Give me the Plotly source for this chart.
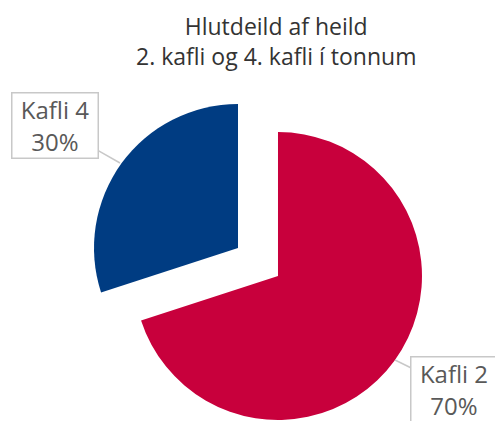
import plotly.graph_objects as go

labels = ["Kafli 2", "Kafli 4"]
values = [70, 30]
colors = ["#C8003C", "#003C82"]
pct_text = ["70%", "30%"]
title_lines = ["Hlutdeild af heild", "2. kafli og 4. kafli í tonnum"]

W, H = 495, 421
FONT = "Open Sans"

# each slice drawn as its own (exploded) pie trace
domains = [
    dict(x=[0.2707, 0.8525], y=[0.0024, 0.6865]),
    dict(x=[0.1899, 0.7717], y=[0.0689, 0.7530]),
]

fig = go.Figure()
for i, lab in enumerate(labels):
    cols = [colors[j] if j == i else "rgba(0,0,0,0)" for j in range(len(labels))]
    fig.add_trace(go.Pie(
        labels=labels, values=values, sort=False, direction="clockwise",
        rotation=0, marker=dict(colors=cols, line=dict(width=0)),
        textinfo="none", hoverinfo="skip", showlegend=False,
        domain=domains[i],
    ))

ann_pos = [
    dict(x=395 / W, y=1 - 360 / H, ax=59, ay=29),
    dict(x=120 / W, y=1 - 163 / H, ax=-65, ay=-37),
]
for i, lab in enumerate(labels):
    p = ann_pos[i]
    fig.add_annotation(
        x=p["x"], y=p["y"], xref="paper", yref="paper",
        ax=p["ax"], ay=p["ay"], showarrow=True, arrowhead=0,
        arrowwidth=1.5, arrowcolor="#C8C8C8",
        text=f"{lab}<br>{pct_text[i]}",
        font=dict(family=FONT, size=24, color="#595959"),
        bordercolor="#C8C8C8", borderwidth=1.5, borderpad=1,
        bgcolor="white", width=83, height=62, align="center",
    )

fig.add_annotation(
    text="<br>".join(title_lines), x=276 / W, y=1 - 8 / H,
    xref="paper", yref="paper", xanchor="center", yanchor="top",
    showarrow=False, align="center",
    font=dict(family=FONT, size=23, color="#333333"),
)

fig.update_layout(
    width=W, height=H,
    margin=dict(l=0, r=0, t=0, b=0),
    paper_bgcolor="white", plot_bgcolor="white",
)

fig.write_html("out.html", config={"displayModeBar": False},
               post_script="document.body.style.margin='0';")
